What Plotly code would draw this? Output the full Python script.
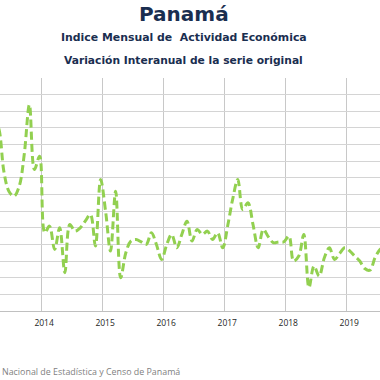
import plotly.graph_objects as go

# Monthly series, April 2013 .. September 2019 (interannual variation, %)
start_year, start_month = 2013, 4
values = [
    11.6, 11.0, 8.4, 7.2, 6.9, 7.5, 9.4, 12.4, 8.5,           # 2013-04..2013-12
    9.3, 4.7, 5.1, 3.7, 5.0, 2.3, 5.2, 4.8, 5.0, 5.4, 5.8, 3.9,  # 2014
    7.9, 5.9, 3.6, 7.2, 2.0, 3.5, 4.2, 4.3, 4.15, 4.0, 4.7, 4.0,  # 2015
    3.1, 4.0, 4.6, 3.8, 4.6, 5.4, 4.2, 4.9, 4.6, 4.8, 4.3, 4.7,  # 2016
    3.8, 5.2, 6.7, 7.9, 6.1, 6.5, 5.2, 3.8, 4.9, 4.45, 4.1, 4.15,  # 2017
    4.15, 4.5, 3.0, 3.3, 4.6, 1.4, 2.7, 2.1, 3.2, 3.8, 3.1, 3.45,  # 2018
    3.8, 3.6, 3.3, 3.0, 2.55, 2.45, 3.2, 3.7, 3.9,               # 2019-01..2019-09
]
years = [2014, 2015, 2016, 2017, 2018, 2019]

dates = []
y, m = start_year, start_month
for _ in values:
    dates.append(f"{y}-{m:02d}-01")
    m += 1
    if m > 12:
        m = 1
        y += 1

title = "Panamá"
subtitle1 = "Indice Mensual de  Actividad Económica"
subtitle2 = "Variación Interanual de la serie original"
source = "Nacional de Estadística y Censo de Panamá"

navy = "#1a2e50"

fig = go.Figure()
fig.add_trace(go.Scatter(
    x=dates, y=values, mode="lines",
    line=dict(color="#92D050", width=3, dash="8px,4px", shape="spline", smoothing=1.0),
    hoverinfo="skip", showlegend=False,
))

fig.update_layout(
    width=380, height=380,
    margin=dict(l=0, r=0, t=78, b=69),
    paper_bgcolor="white", plot_bgcolor="white",
    xaxis=dict(
        type="date",
        range=["2013-05-09", "2019-07-31"],
        tickvals=[f"{yr}-01-10" for yr in years],
        ticktext=[str(yr) for yr in years],
        showgrid=True, gridcolor="#c8c8c8", gridwidth=1,
        showline=True, linecolor="#c0c0c0", linewidth=1,
        ticks="", ticklabelshift=3, ticklabelstandoff=4,
        tickfont=dict(family="Open Sans", size=8.5, color="#262626"),
        zeroline=False,
    ),
    yaxis=dict(
        range=[0, 14], dtick=1, tick0=0,
        showgrid=True, gridcolor="#d4d4d4", gridwidth=1,
        showticklabels=False, zeroline=False, showline=False,
    ),
    annotations=[
        dict(text=f"<b>{title}</b>", x=0.484, y=13.5, xref="paper", yref="paper",
             yanchor="middle", xanchor="center", showarrow=False,
             font=dict(family="DejaVu Sans", size=20, color=navy)),
        dict(text=f"<b>{subtitle1}</b>", x=0.484, y=37.5, xref="paper", yref="paper",
             yanchor="middle", xanchor="center", showarrow=False,
             font=dict(family="DejaVu Sans", size=10.9, color=navy)),
        dict(text=f"<b>{subtitle2}</b>", x=0.484, y=60, xref="paper", yref="paper",
             yanchor="middle", xanchor="center", showarrow=False,
             font=dict(family="DejaVu Sans", size=10.7, color=navy)),
        dict(text=source, x=0, y=371.5, xref="paper", yref="paper",
             yanchor="middle", xanchor="left", showarrow=False,
             font=dict(family="Open Sans", size=8.9, color="#7f7f7f")),
    ],
)

# convert pixel y positions of annotations to paper coordinates
plot_h = 380 - 78 - 69
for ann in fig.layout.annotations:
    py = ann.y
    ann.y = (380 - 69 - py) / plot_h

fig.write_html("out.html", config={"displayModeBar": False},
               post_script="document.body.style.margin='0';")
